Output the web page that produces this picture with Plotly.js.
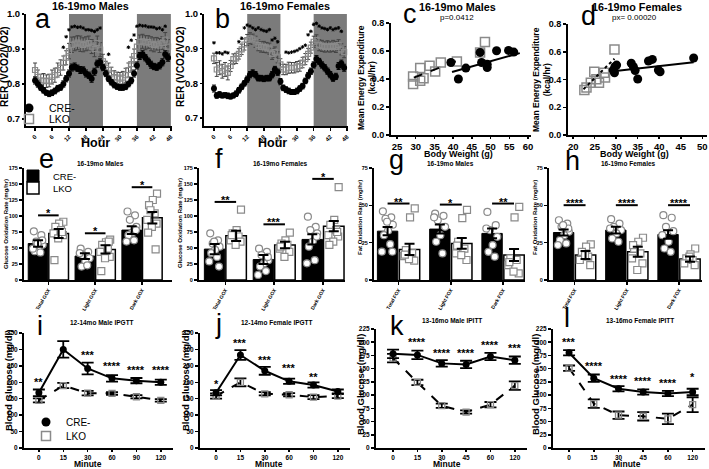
<!DOCTYPE html>
<html><head><meta charset="utf-8">
<script src="https://cdn.plot.ly/plotly-3.0.1.min.js"></script>
<style>html,body{margin:0;padding:0;background:#fff}#chart{width:709px;height:469px}</style>
</head><body><div id="chart"></div>
<script>
// ---------------- DATA ----------------
const hours = [0,1,2,3,4,5,6,7,8,9,10,11,12,13,14,15,16,17,18,19,20,21,22,23,24,25,26,27,28,29,30,31,32,33,34,35,36,37,38,39,40,41,42,43,44,45,46,47];
const hourTicks = [0,6,12,18,24,30,36,42,48];
const darkStart = [12,36];
const darkEnd = [24,48];

// a: 16-19mo Males RER
const aCre = [0.81,0.80,0.79,0.782,0.775,0.772,0.775,0.78,0.787,0.79,0.80,0.815,0.83,0.847,0.85,0.845,0.84,0.84,0.83,0.825,0.815,0.835,0.858,0.862,0.847,0.83,0.815,0.805,0.797,0.792,0.79,0.79,0.792,0.80,0.81,0.83,0.853,0.88,0.885,0.875,0.865,0.855,0.85,0.848,0.852,0.862,0.885,0.875];
const aCreErr = [0.01,0.009,0.008,0.008,0.007,0.008,0.008,0.008,0.009,0.008,0.009,0.009,0.01,0.01,0.01,0.009,0.01,0.009,0.01,0.009,0.01,0.01,0.01,0.01,0.009,0.009,0.008,0.008,0.008,0.007,0.008,0.008,0.008,0.008,0.009,0.01,0.01,0.01,0.01,0.009,0.009,0.01,0.009,0.009,0.009,0.01,0.01,0.01];
const aLko = [0.84,0.82,0.81,0.81,0.808,0.81,0.82,0.825,0.84,0.847,0.86,0.875,0.894,0.912,0.915,0.918,0.915,0.912,0.915,0.917,0.907,0.9,0.917,0.898,0.865,0.847,0.84,0.83,0.82,0.818,0.815,0.818,0.825,0.84,0.857,0.88,0.907,0.92,0.922,0.918,0.92,0.915,0.912,0.915,0.91,0.917,0.927,0.907];
const aLkoErr = [0.02,0.02,0.018,0.02,0.018,0.018,0.02,0.02,0.02,0.022,0.02,0.02,0.022,0.022,0.02,0.02,0.022,0.02,0.02,0.02,0.02,0.022,0.02,0.02,0.02,0.018,0.02,0.018,0.018,0.016,0.018,0.018,0.02,0.02,0.02,0.02,0.02,0.02,0.02,0.02,0.018,0.02,0.02,0.018,0.02,0.018,0.02,0.02];
const aSigH = [10,11,12,13,14,15,16,17,18,19,20,21,22,23,26,33,34,35,36,37,38,39,40,41,42,43,44,45,46];
const aSigY = [0.905,0.935,0.955,0.963,0.965,0.962,0.963,0.96,0.955,0.955,0.953,0.95,0.955,0.96,0.885,0.905,0.925,0.94,0.965,0.968,0.966,0.966,0.963,0.963,0.962,0.958,0.96,0.955,0.965];

// b: 16-19mo Females RER
const bCre = [0.785,0.765,0.768,0.765,0.766,0.764,0.762,0.765,0.77,0.78,0.79,0.80,0.812,0.825,0.83,0.825,0.815,0.815,0.813,0.815,0.815,0.825,0.84,0.832,0.805,0.787,0.782,0.778,0.775,0.775,0.778,0.785,0.792,0.807,0.822,0.835,0.853,0.87,0.863,0.853,0.845,0.835,0.825,0.815,0.82,0.85,0.857,0.845];
const bCreErr = [0.01,0.008,0.008,0.007,0.007,0.008,0.007,0.007,0.008,0.008,0.008,0.008,0.009,0.009,0.009,0.009,0.008,0.008,0.008,0.008,0.008,0.009,0.009,0.009,0.009,0.008,0.008,0.008,0.007,0.007,0.008,0.008,0.008,0.008,0.009,0.009,0.009,0.01,0.009,0.009,0.009,0.009,0.009,0.009,0.009,0.01,0.01,0.01];
const bLko = [0.872,0.84,0.845,0.835,0.84,0.83,0.85,0.87,0.872,0.885,0.898,0.912,0.925,0.93,0.927,0.92,0.91,0.905,0.905,0.903,0.9,0.885,0.89,0.875,0.855,0.84,0.84,0.845,0.845,0.845,0.848,0.85,0.86,0.87,0.885,0.903,0.92,0.925,0.91,0.908,0.905,0.907,0.905,0.908,0.905,0.91,0.898,0.89];
const bLkoErr = [0.015,0.02,0.02,0.02,0.02,0.02,0.016,0.015,0.015,0.015,0.015,0.016,0.016,0.016,0.015,0.016,0.016,0.015,0.016,0.015,0.016,0.016,0.015,0.016,0.016,0.015,0.015,0.016,0.015,0.015,0.015,0.015,0.015,0.016,0.016,0.016,0.016,0.015,0.016,0.016,0.015,0.016,0.015,0.016,0.016,0.016,0.016,0.016];
const bSigH = [0,1,2,3,4,5,9,10,11,12,13,14,15,16,17,18,19,20,21,22,23,26,27,28,29,30,31,32,33,34,35,36,37,38,39,40,41,42,43,44,45,46];
const bSigY = [0.917,0.888,0.888,0.885,0.89,0.888,0.92,0.93,0.96,0.968,0.965,0.96,0.955,0.96,0.955,0.952,0.95,0.955,0.925,0.93,0.92,0.89,0.888,0.89,0.892,0.895,0.9,0.905,0.91,0.94,0.95,0.97,0.973,0.965,0.96,0.958,0.955,0.96,0.955,0.958,0.96,0.95];

// c: 16-19mo Males energy expenditure vs body weight
const cLkoBW = [29.3,29.3,31.2,31.2,32.1,33.7,35.2,36.7,41.0,47.2,48.5];
const cLkoEE = [0.365,0.418,0.478,0.387,0.406,0.494,0.454,0.518,0.525,0.59,0.664];
const cCreBW = [39.4,41.4,43.4,47.2,47.6,49.1,49.1,51.6,54.8,56.2];
const cCreEE = [0.518,0.40,0.478,0.59,0.518,0.506,0.482,0.602,0.604,0.592];
const cFitLkoX = [29.5,42.0], cFitLkoY = [0.41,0.54];
const cFitCreX = [39.7,57.8], cFitCreY = [0.45,0.585];

// d: 16-19mo Females
const dLkoBW = [22.6,23.1,24.1,24.9,25.4,26.0,27.2,27.4,29.6];
const dLkoEE = [0.325,0.343,0.377,0.456,0.401,0.377,0.449,0.415,0.617];
const dCreBW = [29.3,29.7,30.1,29.6,33.5,34.0,34.4,35.0,37.5,38.4,39.8,40.2,48.0];
const dCreEE = [0.468,0.492,0.504,0.449,0.517,0.492,0.465,0.404,0.533,0.545,0.468,0.456,0.555];
const dFitLkoX = [22.4,29.6], dFitLkoY = [0.33,0.55];
const dFitCreX = [29.3,48.0], dFitCreY = [0.46,0.525];

// e-h: oxidation rates
const goxGroups = ['Total GOX','Light GOX','Dark GOX'];
const foxGroups = ['Total FOX','Light FOX','Dark FOX'];

const eCreMean = [57,37.4,78], eCreSem = [5,4.5,6];
const eLkoMean = [72.8,47.8,97.2], eLkoSem = [7,6.5,9];
const eCrePts = [[76,70,60,55,52,45,43,49,62,57],[49,44,39,34,29,21,23,42],[107,101,94,83,74,70,62,60,78]];
const eLkoPts = [[91,88,83,78,73,70,65,31,75],[63,59,55,49,44,36,34,14,60],[135,125,117,104,94,88,83,74,48,109]];
const eSigY = [101,73,145], eSigTxt = ['*','*','*'];

const fCreMean = [48.3,32,63.4], fCreSem = [8,7,8];
const fLkoMean = [69,54.6,84], fLkoSem = [8,5,8];
const fCrePts = [[73,62,57,52,47,42,36,29,21,60],[49,44,39,31,26,21,14,8,36],[99,83,78,73,60,52,31,26,68]];
const fLkoPts = [[110,78,73,68,62,60,55,70],[74,62,57,55,49,44,36,52],[145,94,86,78,70,68,60,55,75]];
const fSigY = [122,87,158], fSigTxt = ['**','***','*'];

const gCreMean = [32.7,34.1,31.2], gCreSem = [2.8,3,3.3];
const gLkoMean = [20.5,24.5,16.7], gLkoSem = [3.7,3.6,4];
const gCrePts = [[46,42,41,37,33,30,24,19,19,39],[44.5,43,40,35.6,30,25.6,17.8,42],[45.6,36.7,33.4,28.9,23.4,18.9,15.6,34.5]];
const gLkoPts = [[48,42,20,18,16,13,14,17],[47,41.5,25.6,21,17.8,13.4,16.7,23],[49,42,14.5,13.4,10,4.5,5.6,12]];
const gSigY = [51.2,50.5,51.2], gSigTxt = ['**','*','**'];

const hCreMean = [31.8,33.4,30.5], hCreSem = [2,2.2,2.8];
const hLkoMean = [16.7,18.9,14], hLkoSem = [2.7,3.3,1.7];
const hCrePts = [[40,37.8,35.6,32.3,30,26.7,24.5,23.4,34.5,36.7],[40.7,37.8,35.6,33.4,31.2,27.8,25.6,34.5],[43.4,41.7,35.6,32.7,25.6,21.1,18.9,30]];
const hLkoPts = [[23.8,22.3,18.9,15.6,13.4,10,16.7],[28.3,25.6,21.1,17.8,14.5,11.1,6.7,23.4],[21.1,17.1,14.5,13.4,11.1,10,15.6]];
const hSigY = [50.1,50.1,50.1], hSigTxt = ['****','****','****'];

// i-l: tolerance tests
const gttMinutes = ['0','15','30','60','90','120'];
const ittMinutes = ['0','15','30','45','60','120'];

const iCre = [168,300,242,212,205,200], iCreErr = [10,25,18,10,8,8];
const iLko = [145,190,167,166,156,145], iLkoErr = [6,8,7,4,5,4];
const iSigY = [206,360,290,255,245,245], iSigTxt = ['**','****','***','****','****','****'];

const jCre = [168,283,235,203,192,172], jCreErr = [8,15,12,8,8,6];
const jLko = [158,200,165,162,155,158], jLkoErr = [8,12,5,5,6,6];
const jSigY = [200,327,275,250,222,null], jSigTxt = ['*','***','***','***','**',''];

const kCre = [178,176,160,158,173,166], kCreErr = [8,8,6,7,7,7];
const kLko = [170,124,80,68,82,118], kLkoErr = [8,5,4,3,5,8];
const kSigY = [null,204,183,183,198,192], kSigTxt = ['','****','****','****','****','***'];

const lCre = [180,132,112,106,103,106], lCreErr = [5,7,5,5,5,6];
const lLko = [151,84,62,60,55,82], lLkoErr = [5,8,7,8,10,14];
const lSigY = [204,158,135,130,126,138], lSigTxt = ['***','****','****','****','****','*'];

// ---------------- HELPERS ----------------
const F = 'Liberation Sans, Arial, sans-serif';
const W = 709, H = 469;
const dx = (a, b) => [a / W, b / W];
const dy = (top, bottom) => [1 - bottom / H, 1 - top / H];
const GRAY = '#8a8a8a';

function ax(extra, fs) {
  return Object.assign({
    showline: true, linewidth: 2, linecolor: '#000', mirror: false,
    ticks: 'outside', ticklen: 3, tickwidth: 1.5, tickcolor: '#000',
    showgrid: false, zeroline: false, fixedrange: true,
    tickfont: {family: F, size: fs || 10, color: '#000', weight: 'bold'}
  }, extra);
}

const traces = [];
const shapes = [];
const annotations = [];

function ann(text, x, y, size, extra) {
  annotations.push(Object.assign({
    text: text, x: x / W, y: 1 - y / H, xref: 'paper', yref: 'paper',
    showarrow: false, xanchor: 'center', yanchor: 'middle',
    font: {family: F, size: size, color: '#000'}
  }, extra || {}));
}
function sigAnn(xa, ya, xs, ys, txt, size, shift) {
  xs.forEach((xv, i) => {
    if (ys[i] === null || !txt[i]) return;
    annotations.push({text: '<b>' + txt[i] + '</b>', x: xv, y: ys[i], xref: xa, yref: ya, showarrow: false,
      xanchor: 'center', yanchor: 'middle', yshift: shift, font: {family: F, size: size, color: '#000'}});
  });
}

// RER panels
function rerPanel(xa, ya, cre, creErr, lko, lkoErr, sigH, sigY) {
  for (let k = 0; k < darkStart.length; k++) {
    shapes.push({type: 'rect', xref: xa, yref: ya + ' domain', x0: darkStart[k], x1: darkEnd[k], y0: 0, y1: 1,
      fillcolor: '#7b7b7b', line: {width: 0}, layer: 'below'});
  }
  traces.push({type: 'scatter', mode: 'markers', x: hours, y: lko, xaxis: xa, yaxis: ya, showlegend: false,
    marker: {symbol: 'square-open', size: 5, color: GRAY, line: {width: 1.2, color: GRAY}},
    error_y: {type: 'data', array: lkoErr, color: '#444', thickness: 1, width: 2}});
  traces.push({type: 'scatter', mode: 'markers', x: hours, y: cre, xaxis: xa, yaxis: ya, showlegend: false,
    marker: {symbol: 'circle', size: 6, color: '#000'},
    error_y: {type: 'data', array: creErr, color: '#000', thickness: 1, width: 2}});
  traces.push({type: 'scatter', mode: 'markers', x: sigH, y: sigY, xaxis: xa, yaxis: ya, showlegend: false,
    marker: {symbol: 'asterisk-open', size: 3, color: '#000', line: {width: 1, color: '#000'}}});
}

function eePanel(xa, ya, lkoX, lkoY, creX, creY, fLx, fLy, fCx, fCy, dash) {
  traces.push({type: 'scatter', mode: 'markers', x: lkoX, y: lkoY, xaxis: xa, yaxis: ya, showlegend: false,
    marker: {symbol: 'square-open', size: 9, color: GRAY, line: {width: 1.5, color: GRAY}}});
  traces.push({type: 'scatter', mode: 'markers', x: creX, y: creY, xaxis: xa, yaxis: ya, showlegend: false,
    marker: {symbol: 'circle', size: 9, color: '#000'}});
  traces.push({type: 'scatter', mode: 'lines', x: fLx, y: fLy, xaxis: xa, yaxis: ya, showlegend: false,
    line: {color: '#000', width: 2, dash: dash}});
  traces.push({type: 'scatter', mode: 'lines', x: fCx, y: fCy, xaxis: xa, yaxis: ya, showlegend: false,
    line: {color: '#000', width: 2}});
}

const jit = [-0.09, 0.07, -0.04, 0.1, 0.01, -0.07, 0.05, -0.11, 0.09, -0.01];
function barPanel(xa, ya, creMean, creSem, lkoMean, lkoSem, crePts, lkoPts, sigY, sigTxt, d, w) {
  const idx = creMean.map((v, i) => i);
  const xc = idx.map(i => i - d), xl = idx.map(i => i + d);
  traces.push({type: 'bar', x: xc, y: creMean, width: w, xaxis: xa, yaxis: ya, showlegend: false,
    marker: {color: '#000', line: {color: '#000', width: 1}}});
  traces.push({type: 'bar', x: xl, y: lkoMean, width: w, xaxis: xa, yaxis: ya, showlegend: false,
    marker: {color: '#fff', line: {color: '#000', width: 1.5}}});
  const pcx = [], pcy = [], plx = [], ply = [];
  crePts.forEach((arr, i) => arr.forEach((v, j) => { pcx.push(i - d + jit[j % jit.length]); pcy.push(v); }));
  lkoPts.forEach((arr, i) => arr.forEach((v, j) => { plx.push(i + d + jit[(j + 3) % jit.length]); ply.push(v); }));
  traces.push({type: 'scatter', mode: 'markers', x: pcx, y: pcy, xaxis: xa, yaxis: ya, showlegend: false,
    marker: {symbol: 'circle', size: 7, color: '#fff', line: {color: GRAY, width: 1.2}}});
  traces.push({type: 'scatter', mode: 'markers', x: plx, y: ply, xaxis: xa, yaxis: ya, showlegend: false,
    marker: {symbol: 'square', size: 7, color: '#fff', line: {color: GRAY, width: 1.2}}});
  traces.push({type: 'scatter', mode: 'markers', x: xc.concat(xl), y: creMean.concat(lkoMean), xaxis: xa, yaxis: ya, showlegend: false,
    marker: {size: 1, color: 'rgba(0,0,0,0)'},
    error_y: {type: 'data', array: creSem.concat(lkoSem), color: '#000', thickness: 2, width: 5}});
  const sx = [], sy = [];
  idx.forEach(i => { sx.push(i - d, i + d, null); sy.push(sigY[i], sigY[i], null); });
  traces.push({type: 'scatter', mode: 'lines', x: sx, y: sy, xaxis: xa, yaxis: ya, showlegend: false, cliponaxis: false,
    line: {color: '#000', width: 2}});
  sigAnn(xa, ya, idx, sigY, sigTxt, 11, 2);
}

function gttPanel(xa, ya, cre, creErr, lko, lkoErr, sigY, sigTxt) {
  const idx = cre.map((v, i) => i);
  traces.push({type: 'scatter', mode: 'lines+markers', x: idx, y: lko, xaxis: xa, yaxis: ya, showlegend: false,
    line: {color: '#000', width: 2, dash: 'dash'},
    marker: {symbol: 'square-open', size: 6, color: GRAY, line: {width: 1.3, color: GRAY}},
    error_y: {type: 'data', array: lkoErr, color: '#000', thickness: 1.8, width: 6}});
  traces.push({type: 'scatter', mode: 'lines+markers', x: idx, y: cre, xaxis: xa, yaxis: ya, showlegend: false,
    line: {color: '#000', width: 2},
    marker: {symbol: 'circle', size: 7, color: '#000'},
    error_y: {type: 'data', array: creErr, color: '#000', thickness: 1.8, width: 6}});
  sigAnn(xa, ya, idx, sigY, sigTxt, 11, -2);
}

// ---------------- PANELS ----------------
rerPanel('x', 'y', aCre, aCreErr, aLko, aLkoErr, aSigH, aSigY);
rerPanel('x2', 'y2', bCre, bCreErr, bLko, bLkoErr, bSigH, bSigY);
eePanel('x3', 'y3', cLkoBW, cLkoEE, cCreBW, cCreEE, cFitLkoX, cFitLkoY, cFitCreX, cFitCreY, 'dash');
eePanel('x4', 'y4', dLkoBW, dLkoEE, dCreBW, dCreEE, dFitLkoX, dFitLkoY, dFitCreX, dFitCreY, 'dot');
barPanel('x5', 'y5', eCreMean, eCreSem, eLkoMean, eLkoSem, eCrePts, eLkoPts, eSigY, eSigTxt, 0.22, 0.42);
barPanel('x6', 'y6', fCreMean, fCreSem, fLkoMean, fLkoSem, fCrePts, fLkoPts, fSigY, fSigTxt, 0.22, 0.42);
barPanel('x7', 'y7', gCreMean, gCreSem, gLkoMean, gLkoSem, gCrePts, gLkoPts, gSigY, gSigTxt, 0.21, 0.39);
barPanel('x8', 'y8', hCreMean, hCreSem, hLkoMean, hLkoSem, hCrePts, hLkoPts, hSigY, hSigTxt, 0.21, 0.39);
gttPanel('x9', 'y9', iCre, iCreErr, iLko, iLkoErr, iSigY, iSigTxt);
gttPanel('x10', 'y10', jCre, jCreErr, jLko, jLkoErr, jSigY, jSigTxt);
gttPanel('x11', 'y11', kCre, kCreErr, kLko, kLkoErr, kSigY, kSigTxt);
gttPanel('x12', 'y12', lCre, lCreErr, lLko, lLkoErr, lSigY, lSigTxt);

// legends (one entry each)
traces.push({type: 'scatter', mode: 'markers', x: [null], y: [null], name: 'CRE-', legend: 'legend', xaxis: 'x', yaxis: 'y',
  marker: {symbol: 'circle', size: 9, color: '#000'}});
traces.push({type: 'scatter', mode: 'markers', x: [null], y: [null], name: 'LKO', legend: 'legend2', xaxis: 'x', yaxis: 'y',
  marker: {symbol: 'square-open', size: 9, color: GRAY, line: {width: 1.5, color: GRAY}}});
traces.push({type: 'bar', x: [null], y: [null], name: 'CRE-', legend: 'legend3', xaxis: 'x5', yaxis: 'y5',
  marker: {color: '#000', line: {color: '#000', width: 1}}});
traces.push({type: 'bar', x: [null], y: [null], name: 'LKO', legend: 'legend4', xaxis: 'x5', yaxis: 'y5',
  marker: {color: '#fff', line: {color: '#000', width: 1.5}}});
traces.push({type: 'scatter', mode: 'markers', x: [null], y: [null], name: 'CRE-', legend: 'legend5', xaxis: 'x9', yaxis: 'y9',
  marker: {symbol: 'circle', size: 9, color: '#000'}});
traces.push({type: 'scatter', mode: 'markers', x: [null], y: [null], name: 'LKO', legend: 'legend6', xaxis: 'x9', yaxis: 'y9',
  marker: {symbol: 'square-open', size: 9, color: GRAY, line: {width: 1.5, color: GRAY}}});

function leg(cx, cy, fs) {
  return {x: (cx - 20) / W, y: 1 - cy / H, xanchor: 'left', yanchor: 'middle', bgcolor: 'rgba(0,0,0,0)',
    borderwidth: 0, font: {family: F, size: fs, color: '#000'}, itemwidth: 30};
}

// ---------------- TEXT ----------------
[['a',43,19],['b',222,19],['c',410,14],['d',588,16],['e',46,159],['f',219,159],['g',396,160],['h',572,161],
 ['i',40,326],['j',218,324],['k',397,326],['l',567,318]].forEach(p => ann(p[0], p[1], p[2], 27));
ann('<b>16-19mo Males</b>', 90, 6, 10.8);
ann('<b>16-19mo Females</b>', 285, 6, 10.8);
ann('<b>16-19mo Males</b>', 457, 7, 10.8);
ann('p=0.0412', 457, 17, 8);
ann('<b>16-19mo Females</b>', 637, 7, 10.8);
ann('px= 0.00020', 634, 17, 8);
ann('<b>16-19mo Males</b>', 100, 164, 6.5);
ann('<b>16-19mo Females</b>', 280, 164, 6.5);
ann('<b>16-19mo Males</b>', 450, 164, 6.5);
ann('<b>16-19mo Females</b>', 628, 164, 6.5);
ann('<b>12-14mo Male IPGTT</b>', 102, 322, 6.5);
ann('<b>12-14mo Female IPGTT</b>', 277, 322, 6.5);
ann('<b>13-16mo Male IPITT</b>', 452, 320, 6.5);
ann('<b>13-16mo Female IPITT</b>', 640, 320, 6.5);
ann('<b>Hour</b>', 95, 143, 12.5);
ann('<b>Hour</b>', 272, 143, 12.5);
ann('<b>Body Weight (g)</b>', 458, 154, 9);
ann('<b>Body Weight (g)</b>', 634, 154, 9);
ann('<b>Minute</b>', 88, 463.5, 8.5);
ann('<b>Minute</b>', 269, 463.5, 8.5);
ann('<b>Minute</b>', 447, 463.5, 8.5);
ann('<b>Minute</b>', 627, 463.5, 8.5);
ann('<b>RER (VCO2/VO2)</b>', 5, 67, 10, {textangle: -90});
ann('<b>RER (VCO2/VO2)</b>', 181, 67, 10, {textangle: -90});
ann('<b>Mean Energy Expenditure<br>(kcal/hr)</b>', 367, 78, 8.5, {textangle: -90});
ann('<b>Mean Energy Expenditure<br>(kcal/hr)</b>', 542, 80, 8.5, {textangle: -90});
ann('<b>Glucose Oxidation Rate (mg/hr)</b>', 6, 224, 6, {textangle: -90});
ann('<b>Glucose Oxidation Rate (mg/hr)</b>', 180, 223, 6, {textangle: -90});
ann('<b>Fat Oxidation Rate (mg/hr)</b>', 360, 218, 6, {textangle: -90});
ann('<b>Fat Oxidation Rate (mg/hr)</b>', 535, 218, 6, {textangle: -90});
ann('<b>Blood Glucose (mg/dl)</b>', 8, 381, 9.5, {textangle: -90});
ann('<b>Blood Glucose (mg/dl)</b>', 185, 381, 9.5, {textangle: -90});
ann('<b>Blood Glucose (mg/dl)</b>', 360, 385, 9.5, {textangle: -90});
ann('<b>Blood Glucose (mg/dl)</b>', 535, 385, 9.5, {textangle: -90});

// ---------------- LAYOUT ----------------
const rerY = {tickvals: [0.7,0.8,0.9,1.0], tickformat: '.1f', ticklen: 2};
const eeY = {tickvals: [0,0.2,0.4,0.6,0.8], tickformat: '.1f', range: [0,0.8]};
const goxY = {tickvals: [0,25,50,75,100,125,150,175], range: [0,175]};
const foxY = {tickvals: [0,25,50,75], range: [0,75]};
const gttY = {tickvals: [0,50,100,150,200,250,300,350], range: [0,350]};
const ittY = {tickvals: [0,25,50,75,100,125,150,175,200,225], range: [0,225]};
const idx3 = [0,1,2], idx6 = [0,1,2,3,4,5];

const layout = {
  width: W, height: H, autosize: false, margin: {l: 0, r: 0, t: 0, b: 0},
  paper_bgcolor: '#fff', plot_bgcolor: 'rgba(0,0,0,0)', font: {family: F, color: '#000'},
  barmode: 'overlay', showlegend: true,
  xaxis: ax({domain: dx(26,172), range: [-3.2,48.4], anchor: 'y', tickvals: hourTicks, tickangle: -45}, 6),
  yaxis: ax(Object.assign({domain: dy(14,126), range: [0.68,1.0], anchor: 'x'}, rerY), 9.5),
  xaxis2: ax({domain: dx(204,348), range: [-3.6,48.4], anchor: 'y2', tickvals: hourTicks, tickangle: -45}, 6),
  yaxis2: ax(Object.assign({domain: dy(14,126), range: [0.677,1.0], anchor: 'x2'}, rerY), 9.5),
  xaxis3: ax({domain: dx(391,531), range: [23.4,60.8], anchor: 'y3', tickvals: [25,30,35,40,45,50,55,60], ticklen: 2}, 9.5),
  yaxis3: ax(Object.assign({domain: dy(23,135), anchor: 'x3'}, eeY), 9),
  xaxis4: ax({domain: dx(568,707), range: [18.8,51.1], anchor: 'y4', tickvals: [20,25,30,35,40,45,50], ticklen: 2}, 9.5),
  yaxis4: ax(Object.assign({domain: dy(24,135), anchor: 'x4'}, eeY), 9),
  xaxis5: ax({domain: dx(24,172), range: [-0.52,2.64], anchor: 'y5', tickvals: idx3, ticktext: goxGroups, tickangle: -60}, 5),
  yaxis5: ax(Object.assign({domain: dy(168,280), anchor: 'x5'}, goxY), 5.5),
  xaxis6: ax({domain: dx(199,345), range: [-0.54,2.45], anchor: 'y6', tickvals: idx3, ticktext: goxGroups, tickangle: -60}, 5),
  yaxis6: ax(Object.assign({domain: dy(168,280), anchor: 'x6'}, goxY), 5.5),
  xaxis7: ax({domain: dx(374,525), range: [-0.47,2.42], anchor: 'y7', tickvals: idx3, ticktext: foxGroups, tickangle: -60}, 5),
  yaxis7: ax(Object.assign({domain: dy(168,280), anchor: 'x7'}, foxY), 5.5),
  xaxis8: ax({domain: dx(549,702), range: [-0.49,2.44], anchor: 'y8', tickvals: idx3, ticktext: foxGroups, tickangle: -60}, 5),
  yaxis8: ax(Object.assign({domain: dy(168,280), anchor: 'x8'}, foxY), 5.5),
  xaxis9: ax({domain: dx(24,173), range: [-0.61,5.5], anchor: 'y9', tickvals: idx6, ticktext: gttMinutes, ticklen: 2}, 6.5),
  yaxis9: ax(Object.assign({domain: dy(333,448), anchor: 'x9'}, gttY), 6.5),
  xaxis10: ax({domain: dx(200,350), range: [-0.66,5.5], anchor: 'y10', tickvals: idx6, ticktext: gttMinutes, ticklen: 2}, 6.5),
  yaxis10: ax(Object.assign({domain: dy(333,448), anchor: 'x10'}, gttY), 6.5),
  xaxis11: ax({domain: dx(376,527), range: [-0.7,5.5], anchor: 'y11', tickvals: idx6, ticktext: ittMinutes, ticklen: 2}, 6.5),
  yaxis11: ax(Object.assign({domain: dy(329,448), anchor: 'x11'}, ittY), 6.5),
  xaxis12: ax({domain: dx(553,705), range: [-0.65,5.5], anchor: 'y12', tickvals: idx6, ticktext: ittMinutes, ticklen: 2}, 6.5),
  yaxis12: ax(Object.assign({domain: dy(329,448), anchor: 'x12'}, ittY), 6.5),
  legend: leg(29,108,10.5), legend2: leg(29,119,10.5), legend3: leg(33,176,9.5), legend4: leg(33,188,9.5),
  legend5: leg(46,422,10), legend6: leg(46,436,10),
  shapes: shapes, annotations: annotations
};

Plotly.newPlot('chart', traces, layout, {displayModeBar: false, staticPlot: true});
</script></body></html>
